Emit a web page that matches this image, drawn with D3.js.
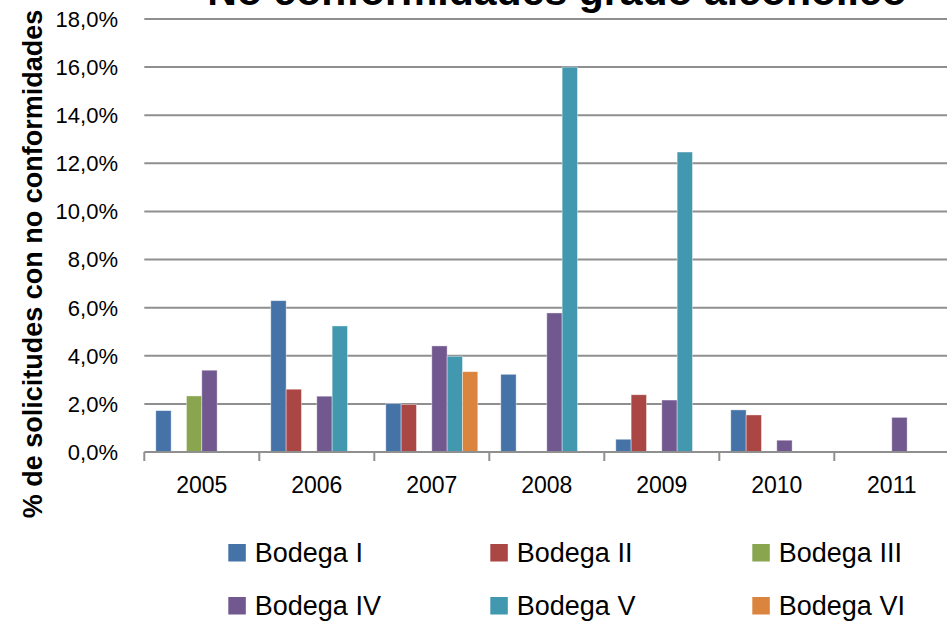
<!DOCTYPE html>
<html>
<head>
<meta charset="utf-8">
<script src="https://cdn.jsdelivr.net/npm/d3@7"></script>
<style>
  body { margin: 0; background: #fff; }
  text { font-family: "Liberation Sans", Arial, sans-serif; fill: #000; }
</style>
</head>
<body>
<div id="chart"></div>
<script>
// categories and series (values in %)
var years = ["2005", "2006", "2007", "2008", "2009", "2010", "2011"]
var series = ["Bodega I", "Bodega II", "Bodega III", "Bodega IV", "Bodega V", "Bodega VI"]
var bodegaI   = [1.72, 6.29, 2.01, 3.23, 0.53, 1.75, 0]
var bodegaII  = [0, 2.61, 1.98, 0, 2.38, 1.54, 0]
var bodegaIII = [2.33, 0, 0, 0, 0, 0, 0]
var bodegaIV  = [3.40, 2.32, 4.41, 5.78, 2.16, 0.49, 1.44]
var bodegaV   = [0, 5.24, 3.98, 16.0, 12.47, 0, 0]
var bodegaVI  = [0, 0, 3.34, 0, 0, 0, 0]
var yTicks = [0, 2, 4, 6, 8, 10, 12, 14, 16, 18]
var colors = ["#4572A7", "#AA4643", "#89A54E", "#71588F", "#4198AF", "#DB843D"]

var values = [bodegaI, bodegaII, bodegaIII, bodegaIV, bodegaV, bodegaVI]

var width = 947
var height = 622

var plotLeft = 144.3
var plotRight = plotLeft + 7 * 115
var plotTop = 19
var plotBottom = 452

var svg = d3.select("#chart")
    .append("svg")
    .attr("width", width)
    .attr("height", height)

var scaleX = d3.scaleBand()
    .domain(years)
    .range([plotLeft, plotRight])
    .padding(0)

var scaleSeries = d3.scaleBand()
    .domain(series)
    .range([0, scaleX.bandwidth()])
    .paddingInner(0)
    .paddingOuter(0.75)

var scaleY = d3.scaleLinear()
    .domain([0, 18])
    .range([plotBottom, plotTop])

// gridlines
svg.append("g")
    .selectAll("line")
    .data(yTicks.filter(function (d) { return d > 0 }))
    .enter()
    .append("line")
    .attr("x1", plotLeft)
    .attr("x2", width)
    .attr("y1", function (d) { return scaleY(d) })
    .attr("y2", function (d) { return scaleY(d) })
    .attr("stroke", "#8f8f8f")
    .attr("stroke-width", 2)

// y tick labels
svg.append("g")
    .selectAll("text")
    .data(yTicks)
    .enter()
    .append("text")
    .attr("x", 118)
    .attr("y", function (d) { return scaleY(d) })
    .attr("dy", "0.36em")
    .attr("text-anchor", "end")
    .style("font-size", "22px")
    .text(function (d) { return d.toFixed(1).replace(".", ",") + "%" })

// bars
var flat = []
values.forEach(function (vals, i) {
    vals.forEach(function (v, j) {
        if (v > 0) flat.push({ series: series[i], year: years[j], value: v, color: colors[i] })
    })
})

svg.append("g")
    .selectAll("rect")
    .data(flat)
    .enter()
    .append("rect")
    .attr("x", function (d) { return scaleX(d.year) + scaleSeries(d.series) })
    .attr("width", scaleSeries.bandwidth())
    .attr("y", function (d) { return scaleY(d.value) })
    .attr("height", function (d) { return scaleY(0) - scaleY(d.value) })
    .attr("fill", function (d) { return d.color })
    .attr("stroke", "rgba(255,255,255,0.5)")
    .attr("stroke-width", 0.8)

// x axis
var xAxis = svg.append("g")
xAxis.append("line")
    .attr("x1", plotLeft)
    .attr("x2", width)
    .attr("y1", plotBottom)
    .attr("y2", plotBottom)
    .attr("stroke", "#8f8f8f")
    .attr("stroke-width", 2)

xAxis.selectAll(".tick")
    .data(years)
    .enter()
    .append("line")
    .attr("x1", function (d) { return scaleX(d) })
    .attr("x2", function (d) { return scaleX(d) })
    .attr("y1", plotBottom)
    .attr("y2", plotBottom + 9)
    .attr("stroke", "#8f8f8f")
    .attr("stroke-width", 2)

xAxis.selectAll("text")
    .data(years)
    .enter()
    .append("text")
    .attr("x", function (d) { return scaleX(d) + scaleX.bandwidth() / 2 })
    .attr("y", 493)
    .attr("text-anchor", "middle")
    .style("font-size", "23px")
    .text(function (d) { return d })

// title (cut off by the top of the picture)
svg.append("text")
    .attr("x", 557)
    .attr("y", 5)
    .attr("text-anchor", "middle")
    .style("font-size", "41px")
    .style("font-weight", "bold")
    .text("No conformidades grado alcohólico")

// y axis title
svg.append("text")
    .attr("transform", "translate(42,264) rotate(-90)")
    .attr("text-anchor", "middle")
    .style("font-size", "27px")
    .style("font-weight", "bold")
    .text("% de solicitudes con no conformidades")

// legend
var legend = svg.append("g")
    .selectAll("g")
    .data(series)
    .enter()
    .append("g")
    .attr("transform", function (d, i) {
        return "translate(" + (228.3 + (i % 3) * 262) + "," + (544 + Math.floor(i / 3) * 53) + ")"
    })

legend.append("rect")
    .attr("width", 17.5)
    .attr("height", 17.5)
    .attr("fill", function (d, i) { return colors[i] })

legend.append("text")
    .attr("x", 26.5)
    .attr("y", 17.7)
    .style("font-size", "27px")
    .text(function (d) { return d })
</script>
</body>
</html>
